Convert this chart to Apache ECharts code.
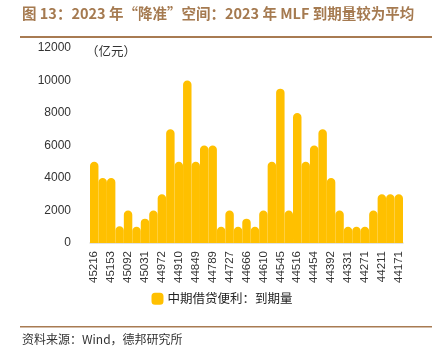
<!DOCTYPE html>
<html><head><meta charset="utf-8">
<script src="https://cdn.jsdelivr.net/npm/echarts@6/dist/echarts.min.js"></script>
<style>html,body{margin:0;padding:0;background:#fff}#c{width:444px;height:350px}</style>
</head><body><div id="c"></div>
<script>
const categories = ['45216','45184','45153','45122','45092','45061','45031','45000','44972','44941','44910','44880','44849','44819','44789','44757','44727','44697','44666','44635','44610','44575','44545','44530','44516','44484','44454','44424','44392','44362','44331','44301','44271','44242','44211','44180','44171'];
const maturity = [5000,4000,4000,1030,2000,1000,1500,2000,3000,7000,5000,10000,5000,6000,6000,1000,2000,1000,1500,1000,2000,5000,9500,2000,8000,5000,6000,7000,4000,2000,1000,1000,1000,2000,3000,3000,3000];
const yTicks = [0,2000,4000,6000,8000,10000,12000];
const seriesName = '中期借贷便利：到期量';
const titleText = '图 13：2023 年“降准”空间：2023 年 MLF 到期量较为平均';
const unitText = '（亿元）';
const sourceText = '资料来源：Wind，德邦研究所';

const chart = echarts.init(document.getElementById('c'), null, {renderer:'canvas'});
const font = '"Noto Sans CJK SC","Noto Sans",sans-serif';
chart.setOption({
  animation:false,
  textStyle:{fontFamily:font},
  grid:{left:90,right:41,top:48,bottom:107},
  legend:{
    data:[seriesName], bottom:40, left:'center', itemWidth:10, itemHeight:10, itemGap:3,
    icon:'roundRect',
    textStyle:{fontSize:12.5,color:'#222',fontFamily:font}
  },
  xAxis:{
    type:'category', data:categories,
    axisLine:{lineStyle:{color:'#d9d9d9',width:1.5}},
    axisTick:{show:false},
    axisLabel:{rotate:90,interval:1,fontSize:11.5,color:'#333',margin:8,fontFamily:'"Liberation Sans",Arial,sans-serif'}
  },
  yAxis:{
    type:'value', min:yTicks[0], max:yTicks[yTicks.length-1], interval:2000,
    splitLine:{show:false}, axisLine:{show:false}, axisTick:{show:false},
    axisLabel:{fontSize:12,color:'#333',margin:19,fontFamily:'"Liberation Sans",Arial,sans-serif',
      formatter:function(v){return String(v);}}
  },
  series:[{
    name:seriesName, type:'bar', data:maturity,
    barCategoryGap:'0%',
    itemStyle:{color:'#FFC000',borderColor:'#FFC000',borderWidth:4,borderRadius:[3,3,0,0]}
  }],
  graphic:[
    {type:'text',left:22,top:6,style:{text:titleText,font:'bold 14.5px '+font,fill:'#A57A50'}},
    {type:'rect',shape:{x:20,y:36,width:412,height:2},style:{fill:'#A87B52'}},
    {type:'text',left:86,top:45,style:{text:unitText,font:'12.5px '+font,fill:'#333'}},
    {type:'rect',shape:{x:20,y:326,width:412,height:1.5},style:{fill:'#A87B52'}},
    {type:'text',left:22,top:333,style:{text:sourceText,font:'12px '+font,fill:'#333'}}
  ]
});
</script></body></html>
